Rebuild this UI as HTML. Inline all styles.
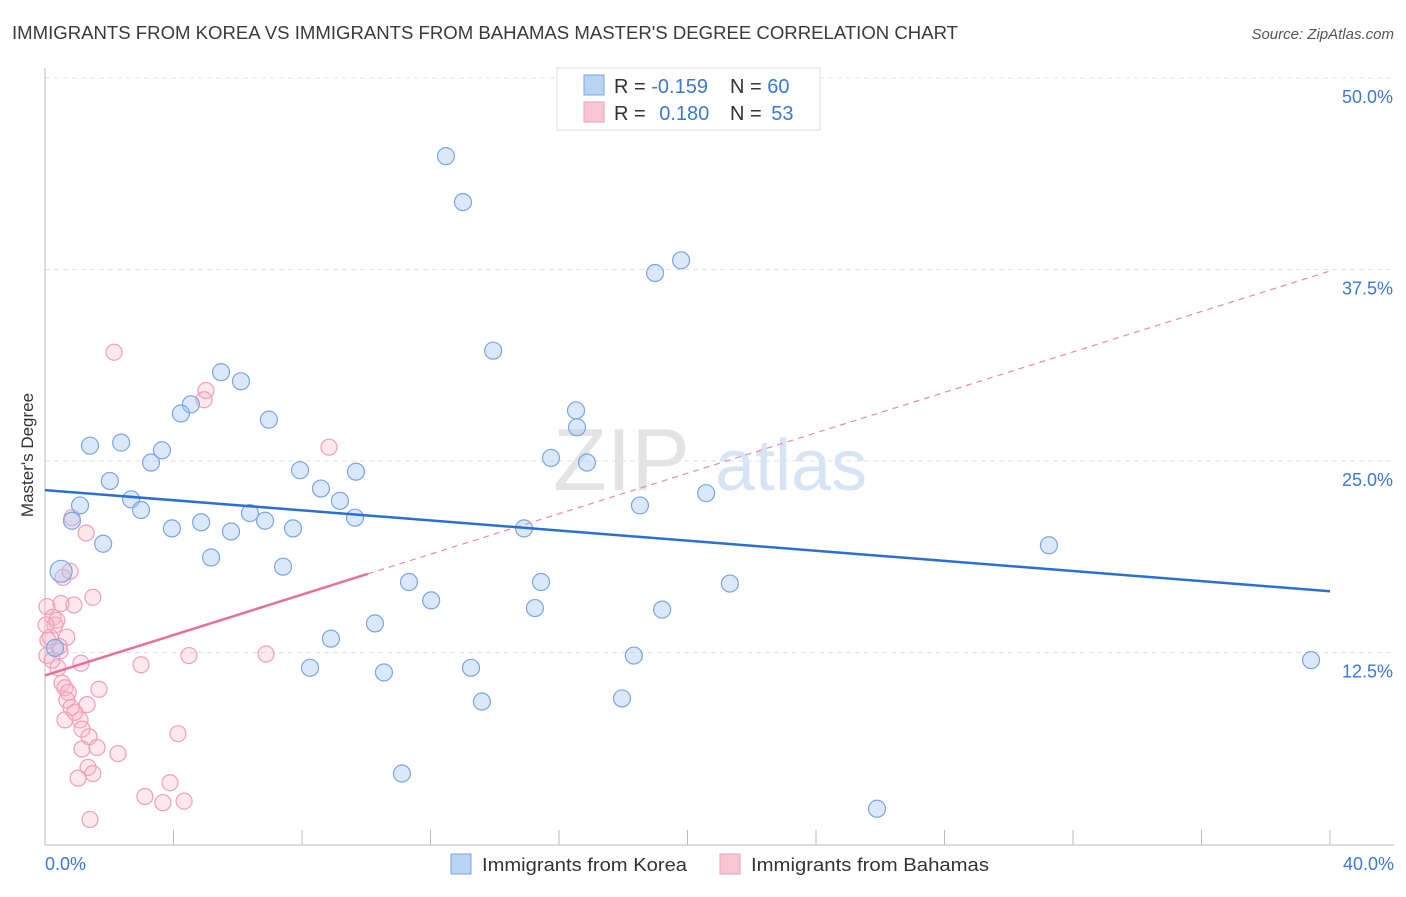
<!DOCTYPE html>
<html><head><meta charset="utf-8"><style>
body{margin:0;background:#fff;font-family:"Liberation Sans",sans-serif;}
svg text{font-family:"Liberation Sans",sans-serif;}
</style></head><body>
<svg id="chart" width="1406" height="892" xmlns="http://www.w3.org/2000/svg">
<text x="12" y="39" font-size="18" fill="#3a3a3a" textLength="946" lengthAdjust="spacingAndGlyphs">IMMIGRANTS FROM KOREA VS IMMIGRANTS FROM BAHAMAS MASTER'S DEGREE CORRELATION CHART</text>
<text x="1394" y="39" font-size="15" fill="#555" text-anchor="end" font-style="italic">Source: ZipAtlas.com</text>
<g id="grid"></g>
<g><text x="553" y="490" font-size="88" fill="#e4e4e4" font-family="Liberation Serif,serif">ZIP</text><text x="715" y="490" font-size="72" fill="#d6e4f5">atlas</text></g>
<g id="axes"></g>
<g id="marks"></g>
<text transform="translate(33,455) rotate(-90)" font-size="17" fill="#333" text-anchor="middle">Master's Degree</text>
<text x="45" y="870" font-size="18" fill="#3b78d8">0.0%</text>
<text x="1394" y="870" font-size="18" fill="#3b78d8" text-anchor="end">40.0%</text>
<g>
<rect x="557" y="68" width="263" height="62" fill="#fff" stroke="#ddd"/>
<rect x="584" y="75" width="20" height="20" fill="#b9d3f3" stroke="#7aa6e0"/>
<rect x="584" y="102" width="20" height="20" fill="#f9c6d4" stroke="#ef9fb8"/>
<text x="614" y="93" font-size="20" fill="#333">R = <tspan fill="#3b78d8">-0.159</tspan></text>
<text x="730" y="93" font-size="20" fill="#333">N = <tspan fill="#3b78d8">60</tspan></text>
<text x="614" y="120" font-size="20" fill="#333">R = <tspan fill="#3b78d8" dx="8">0.180</tspan></text>
<text x="730" y="120" font-size="20" fill="#333">N = <tspan fill="#3b78d8" dx="4">53</tspan></text>
</g>
<g>
<rect x="451" y="854" width="20" height="20" fill="#b9d3f3" stroke="#7aa6e0"/>
<text x="482" y="871" font-size="18" fill="#333" textLength="205" lengthAdjust="spacingAndGlyphs">Immigrants from Korea</text>
<rect x="720" y="854" width="20" height="20" fill="#f9c6d4" stroke="#ef9fb8"/>
<text x="751" y="871" font-size="18" fill="#333" textLength="238" lengthAdjust="spacingAndGlyphs">Immigrants from Bahamas</text>
</g>
</svg>
<script>
const yTicks=[12.5,25,37.5,50];
const yTickLabels=["12.5%","25.0%","37.5%","50.0%"];
const xTicks=[0,4,8,12,16,20,24,28,32,36,40];
const koreaX=[12.48,13.01,18.99,19.8,13.95,5.48,6.1,4.54,4.23,6.97,16.53,16.56,1.4,2.37,3.64,3.3,15.75,16.87,7.94,9.68,2.02,2.68,8.59,9.18,1.09,2.99,6.38,6.85,9.65,0.84,4.86,3.95,5.79,7.72,14.91,18.52,20.58,1.81,5.17,0.5,7.41,11.33,15.44,21.32,12.02,15.25,19.21,10.27,8.9,18.33,8.25,10.55,13.26,13.6,17.96,11.11,25.9,31.25,39.41,0.31];
const koreaY=[44.9,41.9,37.27,38.1,32.2,30.8,30.2,28.7,28.1,27.7,28.3,27.2,26.0,26.2,25.7,24.9,25.2,24.9,24.4,24.3,23.7,22.5,23.2,22.4,22.1,21.8,21.6,21.1,21.3,21.1,21.0,20.6,20.4,20.6,20.6,22.1,22.9,19.6,18.7,17.8,18.1,17.1,17.1,17.0,15.9,15.4,15.3,14.4,13.4,12.3,11.5,11.2,11.5,9.3,9.5,4.6,2.3,19.5,12.0,12.8];
const bahamasX=[2.15,5.01,4.95,8.84,1.28,0.84,0.78,0.56,0.06,0.5,0.9,1.49,0.25,0.31,0.16,0.68,0.44,0.06,0.47,1.12,2.99,4.48,6.88,0.4,0.53,0.62,0.72,1.68,0.68,0.81,1.09,0.62,1.15,1.37,4.14,1.15,1.62,2.27,1.34,1.49,1.03,3.89,3.11,3.67,4.33,1.4,0.09,0.22,0.93,1.31,0.37,0.03];
const bahamasY=[32.1,29.6,29.0,25.9,20.3,21.3,17.8,17.4,15.5,15.7,15.6,16.1,14.8,14.3,13.5,13.5,12.9,12.3,12.6,11.8,11.7,12.3,12.4,11.5,10.5,10.2,9.9,10.1,9.4,8.9,8.1,8.1,7.5,7.0,7.2,6.2,6.3,5.9,5.0,4.6,4.3,4.0,3.1,2.7,2.8,1.6,13.3,12.0,8.6,9.1,14.6,14.3];
const koreaTrend=[23.1,16.5];
const bahamasTrend=[11.0,37.4];
const bahamasSolidEnd=10.05;

const NS="http://www.w3.org/2000/svg";
const X=v=>45+v*(1285/40);
const Y=v=>844-v*(766/50);
function mk(tag,attrs,parent){const e=document.createElementNS(NS,tag);for(const k in attrs)e.setAttribute(k,attrs[k]);parent.appendChild(e);return e;}
const grid=document.getElementById('grid'),axes=document.getElementById('axes'),marks=document.getElementById('marks');
yTicks.forEach((t,i)=>{
 const l=mk('line',{x1:45,x2:1394,y1:Y(t),y2:Y(t),stroke:'#e2e2e2','stroke-dasharray':'5,4'},grid);
 
 
 const tx=mk('text',{x:1393,y:Y(t)+25,'font-size':18,fill:'#3b78d8','text-anchor':'end'},axes);
 tx.textContent=yTickLabels[i];
 
 
});
const yl=mk('line',{x1:45,x2:45,y1:68,y2:845,stroke:'#bbb'},axes);


const xl=mk('line',{x1:45,x2:1394,y1:845,y2:845,stroke:'#bbb'},axes);


xTicks.forEach(t=>{
 const l=mk('line',{x1:X(t),x2:X(t),y1:830,y2:845,stroke:'#bbb'},axes);
 
 
});
bahamasX.forEach((v,i)=>{
 const c=mk('circle',{cx:X(v),cy:Y(bahamasY[i]),r:8,fill:'rgba(248,180,200,0.3)',stroke:'#f0a0b8','stroke-width':1.2},marks);
 
 
});
koreaX.forEach((v,i)=>{
 const c=mk('circle',{cx:X(v),cy:Y(koreaY[i]),r:i==39?11:8.5,fill:'rgba(165,198,240,0.4)',stroke:'#7aa6e0','stroke-width':1.2},marks);
 
 
});
const bAt=v=>bahamasTrend[0]+(bahamasTrend[1]-bahamasTrend[0])*v/40;
const d1=mk('line',{x1:X(bahamasSolidEnd),y1:Y(bAt(bahamasSolidEnd)),x2:X(40),y2:Y(bahamasTrend[1]),stroke:'#ec8aa8','stroke-width':1.2,'stroke-dasharray':'6,5'},marks);


const d2=mk('line',{x1:X(0),y1:Y(bahamasTrend[0]),x2:X(bahamasSolidEnd),y2:Y(bAt(bahamasSolidEnd)),stroke:'#e8709a','stroke-width':2.5},marks);


const k=mk('line',{x1:X(0),y1:Y(koreaTrend[0]),x2:X(40),y2:Y(koreaTrend[1]),stroke:'#2a6fd6','stroke-width':2.5},marks);


</script>
</body></html>
